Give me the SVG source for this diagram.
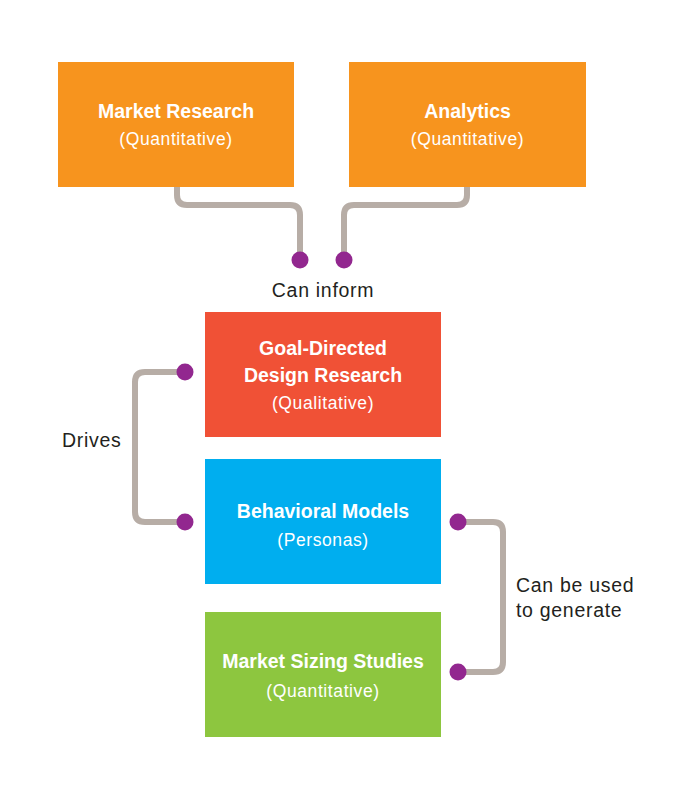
<svg xmlns="http://www.w3.org/2000/svg" width="700" height="800" viewBox="0 0 700 800">
<style>
.box{stroke:none}
.t{font-family:"Liberation Sans",Arial,sans-serif;fill:#fff;text-anchor:middle}
.b{font-weight:bold;font-size:19.5px}
.s{font-size:17.5px;letter-spacing:0.6px}
.lbl{font-family:"Liberation Sans",Arial,sans-serif;font-size:19.5px;fill:#231f20;letter-spacing:0.7px}
.ln{fill:none;stroke:#b7ada6;stroke-width:6;stroke-linejoin:round}
.dot{fill:#92278f}
</style>
<rect width="700" height="800" fill="#fff"/>
<g id="connectors">
<path class="ln" d="M177,187 V195 Q177,205 187,205 H290 Q300,205 300,215 V260"/>
<path class="ln" d="M467,187 V195 Q467,205 457,205 H354 Q344,205 344,215 V260"/>
<path class="ln" d="M185,372 H145 Q135,372 135,382 V512 Q135,522 145,522 H185"/>
<path class="ln" d="M458,522 H493 Q503,522 503,532 V662 Q503,672 493,672 H458"/>
<circle class="dot" cx="300" cy="260" r="8.5"/>
<circle class="dot" cx="344" cy="260" r="8.5"/>
<circle class="dot" cx="185" cy="372" r="8.5"/>
<circle class="dot" cx="185" cy="522" r="8.5"/>
<circle class="dot" cx="458" cy="522" r="8.5"/>
<circle class="dot" cx="458" cy="672" r="8.5"/>
<text class="lbl" x="323" y="297" text-anchor="middle">Can inform</text>
<text class="lbl" x="62" y="447">Drives</text>
<text class="lbl" x="516" y="592">Can be used</text>
<text class="lbl" x="516" y="617">to generate</text>
</g>
<g id="market-research">
<rect class="box" x="58" y="62" width="236" height="125" fill="#f7941e"/>
<text class="t b" x="176" y="118">Market Research</text>
<text class="t s" x="176" y="145">(Quantitative)</text>
</g>
<g id="analytics">
<rect class="box" x="349" y="62" width="237" height="125" fill="#f7941e"/>
<text class="t b" x="467.5" y="118">Analytics</text>
<text class="t s" x="467.5" y="145">(Quantitative)</text>
</g>
<g id="goal-directed">
<rect class="box" x="205" y="312" width="236" height="125" fill="#f05136"/>
<text class="t b" x="323" y="355">Goal-Directed</text>
<text class="t b" x="323" y="382">Design Research</text>
<text class="t s" x="323" y="409">(Qualitative)</text>
</g>
<g id="behavioral-models">
<rect class="box" x="205" y="459" width="236" height="125" fill="#00aeef"/>
<text class="t b" x="323" y="518">Behavioral Models</text>
<text class="t s" x="323" y="546">(Personas)</text>
</g>
<g id="market-sizing">
<rect class="box" x="205" y="612" width="236" height="125" fill="#8dc63f"/>
<text class="t b" x="323" y="668">Market Sizing Studies</text>
<text class="t s" x="323" y="697">(Quantitative)</text>
</g>
</svg>
